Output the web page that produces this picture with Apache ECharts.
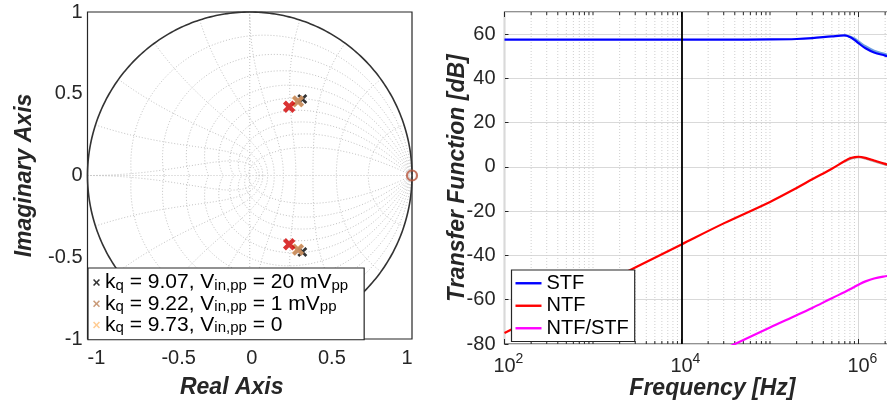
<!DOCTYPE html>
<html>
<head>
<meta charset="utf-8">
<script src="https://cdn.jsdelivr.net/npm/echarts@6/dist/echarts.min.js"></script>
<style>
  html, body { margin: 0; padding: 0; background: #ffffff; }
  #c { width: 887px; height: 412px; }
</style>
</head>
<body>
<div id="c"></div>
<script>
const FONT = '"Liberation Sans", Arial, Helvetica, sans-serif';
const INK = '#262626';

// ---- Pole-zero map (z-plane) ----
const polesKq907 = [[0.324, 0.468], [0.324, -0.468]];
const polesKq922 = [[0.298, 0.454], [0.298, -0.454]];
const polesKq973 = [[0.296, 0.452], [0.296, -0.452]];
const polesNtf   = [[0.243, 0.420], [0.243, -0.420]];
const zerosStf   = [[1, 0]];
const pzTicks    = [-1, -0.5, 0, 0.5, 1];

// zgrid: damping ratios and natural frequencies (fractions of pi rad/sample)
const zetaLevels = [0.1, 0.2, 0.3, 0.4, 0.5, 0.6, 0.7, 0.8, 0.9];
const wnLevels   = [0.1, 0.2, 0.3, 0.4, 0.5, 0.6, 0.7, 0.8, 0.9, 1.0];

// ---- Frequency response ----
const freqHz  = [1e2, 1e3, 1e4, 3e4, 1e5, 2e5, 3e5, 5e5, 7e5, 8e5, 9e5, 1e6, 1.2e6, 1.5e6, 2e6, 2.2e6];
const stfDb   = [57.5, 57.5, 57.5, 57.5, 57.6, 57.8, 58.2, 59.0, 59.4, 58.7, 57.4, 55.9, 53.6, 51.7, 50.3, 49.8];
const ntfDb   = [-75, -55, -35, -25.5, -15.8, -9.5, -5.6, -0.8, 2.7, 3.9, 4.4, 4.6, 4.1, 2.9, 1.4, 1.0];
const ratioDb = [null, null, null, -82.4, -72.5, -67.0, -63.7, -59.3, -56.5, -55.3, -54.2, -53.2, -51.7, -50.4, -49.4, -49.2];
// responses at the other quantizer gains, visible only around the band edge
const freqEdgeHz = [7e5, 8e5, 9e5, 1e6, 1.2e6, 1.5e6, 2e6, 2.2e6];
const stfAltDb   = [59.4, 58.9, 58.0, 56.7, 54.5, 52.5, 51.0, 50.5];
const ntfAltDb   = [2.5, 3.6, 4.2, 4.4, 3.8, 2.6, 1.1, 0.7];
const freqMin = 1e2, freqMax = 5e6;
const labeledDecades = [2, 4, 6];
const signalBandHz = 1e4;

// vertical frequency grid: labelled decades solid, all other decade steps dotted
const gridFreqs = [];
for (let e = 2; e <= 6; e++) {
  for (let m = 1; m <= 9; m++) {
    const f = m * Math.pow(10, e);
    if (f > freqMax) break;
    gridFreqs.push([f, (m === 1 && labeledDecades.indexOf(e) >= 0) ? 1 : 0]);
  }
}

// z-plane grid curves
const zCurves = [];
const N = 90;
zetaLevels.forEach(z => {
  [1, -1].forEach(sgn => {
    const pts = [];
    for (let i = 0; i <= N; i++) {
      const th = Math.PI * i / N;
      const r = Math.exp(-z * th / Math.sqrt(1 - z * z));
      pts.push([r * Math.cos(th), sgn * r * Math.sin(th)]);
    }
    zCurves.push(pts);
  });
});
wnLevels.forEach(w => {
  const wn = w * Math.PI;
  [1, -1].forEach(sgn => {
    const pts = [];
    for (let i = 0; i <= N; i++) {
      const zeta = i / N;
      const re = -zeta * wn, im = wn * Math.sqrt(1 - zeta * zeta);
      const m = Math.exp(re);
      pts.push([m * Math.cos(im), sgn * m * Math.sin(im)]);
    }
    zCurves.push(pts);
  });
});
zCurves.push([[-1, 0], [1, 0]]);
zCurves.push([[0, -1], [0, 1]]);
const unitCircle = [];
for (let i = 0; i <= 360; i++) {
  const a = 2 * Math.PI * i / 360;
  unitCircle.push([Math.cos(a), Math.sin(a)]);
}

// filled "x" marker of arm thickness t (in a 10x10 box)
function xMark(t) {
  return 'path://M0,' + t + 'L' + t + ',0L5,' + (5 - t) + 'L' + (10 - t) + ',0L10,' + t +
    'L' + (5 + t) + ',5L10,' + (10 - t) + 'L' + (10 - t) + ',10L5,' + (5 + t) +
    'L' + t + ',10L0,' + (10 - t) + 'L' + (5 - t) + ',5Z';
}

const pzNames = [
  'kq = 9.07, Vin,pp = 20 mVpp',
  'kq = 9.22, Vin,pp = 1 mVpp',
  'kq = 9.73, Vin,pp = 0'
];
const pzRich = {
  [pzNames[0]]: '{m|k}{s|q}{m| = 9.07, V}{s|in,pp}{m| = 20 mV}{s|pp}',
  [pzNames[1]]: '{m|k}{s|q}{m| = 9.22, V}{s|in,pp}{m| = 1 mV}{s|pp}',
  [pzNames[2]]: '{m|k}{s|q}{m| = 9.73, V}{s|in,pp}{m| = 0}'
};

// small per-label nudges for the real-axis tick labels
const pzLabelKey = { '-1': 'a', '-0.5': 'b', '0': 'c', '0.5': 'd', '1': 'e' };
const pzLabelRich = {
  a: { padding: [0, 0, 0, 18] },
  b: { padding: [0, 0, 0, 20] },
  c: { padding: [0, 0, 0, 4] },
  d: { padding: [0, 0, 0, 2] },
  e: { padding: [0, 10, 0, 0] }
};
Object.keys(pzLabelRich).forEach(k => Object.assign(pzLabelRich[k], { fontFamily: FONT, fontSize: 20, color: INK }));

const axisNameStyle = { fontFamily: FONT, fontSize: 23, fontWeight: 'bold', fontStyle: 'italic', color: INK };
const tickStyle = { fontFamily: FONT, fontSize: 20, color: INK };

const chart = echarts.init(document.getElementById('c'));

chart.setOption({
  animation: false,
  backgroundColor: '#ffffff',
  grid: [
    { left: 87.5, top: 12, width: 324.5, height: 327, outerBoundsMode: 'none', containLabel: false,
      show: true, backgroundColor: '#fff', borderColor: INK, borderWidth: 1.2 },
    { left: 504.5, top: 12, width: 88.5 * Math.log10(freqMax / freqMin), height: 332, outerBoundsMode: 'none', containLabel: false,
      show: true, backgroundColor: '#fff', borderColor: INK, borderWidth: 1.2 }
  ],
  xAxis: [
    {
      gridIndex: 0, type: 'value', min: -1, max: 1, interval: 0.5,
      name: 'Real Axis', nameLocation: 'middle', nameGap: 37, nameMoveOverlap: false,
      nameTextStyle: Object.assign({ padding: [0, 36, 0, 0] }, axisNameStyle),
      axisLine: { show: false }, axisTick: { show: false }, splitLine: { show: false },
      axisLabel: {
        margin: 9,
        formatter: v => '{' + pzLabelKey[String(v)] + '|' + v + '}',
        rich: pzLabelRich
      }
    },
    {
      gridIndex: 1, type: 'log', logBase: 10, min: freqMin, max: freqMax,
      name: 'Frequency [Hz]', nameLocation: 'middle', nameGap: 33, nameMoveOverlap: false, nameTextStyle: axisNameStyle,
      axisLine: { show: false }, axisTick: { show: false }, splitLine: { show: false },
      axisLabel: {
        margin: 8, showMaxLabel: false,
        formatter: v => {
          const e = Math.round(Math.log10(v));
          if (Math.abs(Math.log10(v) - e) > 1e-6 || labeledDecades.indexOf(e) < 0) return '';
          return '{p|' + e + '}{b|10}{s|' + e + '}';
        },
        rich: {
          b: { fontFamily: FONT, fontSize: 20, color: INK, lineHeight: 24, verticalAlign: 'bottom' },
          s: { fontFamily: FONT, fontSize: 14, color: INK, lineHeight: 10, verticalAlign: 'top' },
          p: { fontFamily: FONT, fontSize: 14, color: 'rgba(0,0,0,0)', lineHeight: 10, verticalAlign: 'top' }
        }
      }
    }
  ],
  yAxis: [
    {
      gridIndex: 0, type: 'value', min: -1, max: 1, interval: 0.5,
      name: 'Imaginary Axis', nameLocation: 'middle', nameGap: 51, nameMoveOverlap: false, nameTextStyle: axisNameStyle,
      axisLine: { show: false }, axisTick: { show: false }, splitLine: { show: false },
      axisLabel: Object.assign({ margin: 5 }, tickStyle)
    },
    {
      gridIndex: 1, type: 'value', min: -80, max: 70, interval: 20,
      name: 'Transfer Function [dB]', nameLocation: 'middle', nameGap: 35, nameMoveOverlap: false, nameTextStyle: axisNameStyle,
      axisLine: { show: false },
      axisTick: { show: true, inside: true, length: 4, lineStyle: { color: INK, width: 1 } },
      splitLine: { show: true, lineStyle: { color: '#d9d9d9', width: 1 } },
      axisLabel: Object.assign({ margin: 9, showMaxLabel: false }, tickStyle)
    }
  ],
  legend: [
    {
      data: pzNames.map(n => ({ name: n, icon: xMark(1.6) })),
      orient: 'vertical', left: 88, top: 268,
      itemWidth: 7, itemHeight: 7, itemGap: 0,
      backgroundColor: '#ffffff', borderColor: INK, borderWidth: 1.2, borderRadius: 0,
      padding: [4, 16, 4, 5],
      selectedMode: false,
      formatter: n => pzRich[n],
      textStyle: {
        rich: {
          m: { fontFamily: FONT, fontSize: 21, color: '#000', lineHeight: 21.5 },
          s: { fontFamily: FONT, fontSize: 15, color: '#000', lineHeight: 8, verticalAlign: 'bottom' }
        }
      }
    },
    {
      data: ['STF', 'NTF', 'NTF/STF'],
      orient: 'vertical', left: 511.5, top: 270,
      icon: 'rect', itemWidth: 26, itemHeight: 2.4, itemGap: 0,
      backgroundColor: '#ffffff', borderColor: INK, borderWidth: 1.2, borderRadius: 0,
      padding: [2, 6, 2, 4],
      selectedMode: false,
      textStyle: { fontFamily: FONT, fontSize: 20, color: '#000', lineHeight: 22.5 }
    }
  ],
  series: [
    {
      type: 'custom', name: 'zgrid', xAxisIndex: 0, yAxisIndex: 0, silent: true, z: 1,
      data: zCurves.map(() => [0, 0]),
      renderItem: (params, api) => ({
        type: 'polyline',
        shape: { points: zCurves[params.dataIndex].map(p => api.coord(p)) },
        style: { stroke: '#c2c2c2', lineWidth: 1, lineDash: [1, 2], fill: null }
      })
    },
    {
      type: 'custom', name: 'unit circle', xAxisIndex: 0, yAxisIndex: 0, silent: true, z: 2,
      data: [[0, 0]],
      renderItem: (params, api) => ({
        type: 'polyline',
        shape: { points: unitCircle.map(p => api.coord(p)) },
        style: { stroke: '#333333', lineWidth: 1.6, fill: null }
      })
    },
    {
      type: 'scatter', name: pzNames[0], xAxisIndex: 0, yAxisIndex: 0, z: 3,
      data: polesKq907, symbol: xMark(1.9), symbolSize: 10,
      itemStyle: { color: '#000000' }
    },
    {
      type: 'scatter', name: pzNames[2], xAxisIndex: 0, yAxisIndex: 0, z: 3,
      data: polesKq973, symbol: xMark(2.2), symbolSize: 12,
      itemStyle: { color: '#ffc07a' }
    },
    {
      type: 'scatter', name: pzNames[1], xAxisIndex: 0, yAxisIndex: 0, z: 3,
      data: polesKq922, symbol: xMark(2.3), symbolSize: 12,
      itemStyle: { color: '#bd8258' }
    },
    {
      type: 'scatter', name: 'NTF poles', xAxisIndex: 0, yAxisIndex: 0, z: 3,
      data: polesNtf, symbol: xMark(2.4), symbolSize: 12.5,
      itemStyle: { color: '#d10000' }
    },
    {
      type: 'scatter', name: 'STF zero', xAxisIndex: 0, yAxisIndex: 0, z: 4,
      data: zerosStf, symbol: 'circle', symbolSize: 10,
      itemStyle: { color: 'rgba(0,0,0,0)', borderColor: '#b5523a', borderWidth: 2.2 }
    },
    {
      type: 'custom', name: 'frequency grid', xAxisIndex: 1, yAxisIndex: 1, silent: true, z: 1,
      data: gridFreqs,
      renderItem: (params, api) => {
        const major = api.value(1) === 1;
        const x = api.coord([api.value(0), 0])[0];
        const cs = params.coordSys;
        const top = cs.y, bottom = cs.y + cs.height;
        const tick = major ? 5 : 3;
        return {
          type: 'group',
          children: [
            { type: 'line', shape: { x1: x, y1: top, x2: x, y2: bottom },
              style: major ? { stroke: '#d9d9d9', lineWidth: 1 } : { stroke: '#cfcfcf', lineWidth: 1, lineDash: [1, 2] } },
            { type: 'line', shape: { x1: x, y1: top, x2: x, y2: top + tick }, style: { stroke: INK, lineWidth: 1 } },
            { type: 'line', shape: { x1: x, y1: bottom, x2: x, y2: bottom - tick }, style: { stroke: INK, lineWidth: 1 } }
          ]
        };
      }
    },
    {
      type: 'line', name: 'STF (other gains)', xAxisIndex: 1, yAxisIndex: 1, z: 2, silent: true,
      data: freqEdgeHz.map((f, i) => [f, stfAltDb[i]]),
      showSymbol: false, smooth: 0.35,
      lineStyle: { color: '#6d9fe0', width: 2.2 }
    },
    {
      type: 'line', name: 'NTF (other gains)', xAxisIndex: 1, yAxisIndex: 1, z: 2, silent: true,
      data: freqEdgeHz.map((f, i) => [f, ntfAltDb[i]]),
      showSymbol: false, smooth: 0.35,
      lineStyle: { color: '#9a6262', width: 2.2, opacity: 0.7 }
    },
    {
      type: 'line', name: 'STF', xAxisIndex: 1, yAxisIndex: 1, z: 3,
      data: freqHz.map((f, i) => [f, stfDb[i]]),
      showSymbol: false, smooth: 0.35,
      lineStyle: { color: '#0000ff', width: 2.2 }, itemStyle: { color: '#0000ff' },
      markLine: {
        silent: true, symbol: 'none', label: { show: false },
        lineStyle: { color: '#000000', width: 1.8, type: 'solid' },
        data: [{ xAxis: signalBandHz }]
      }
    },
    {
      type: 'line', name: 'NTF', xAxisIndex: 1, yAxisIndex: 1, z: 3,
      data: freqHz.map((f, i) => [f, ntfDb[i]]),
      showSymbol: false, smooth: 0.35,
      lineStyle: { color: '#ff0000', width: 2.2 }, itemStyle: { color: '#ff0000' }
    },
    {
      type: 'line', name: 'NTF/STF', xAxisIndex: 1, yAxisIndex: 1, z: 3,
      data: freqHz.map((f, i) => [f, ratioDb[i]]).filter(d => d[1] !== null),
      showSymbol: false, smooth: 0.35,
      lineStyle: { color: '#ff00ff', width: 2.2 }, itemStyle: { color: '#ff00ff' }
    }
  ]
});
</script>
</body>
</html>
